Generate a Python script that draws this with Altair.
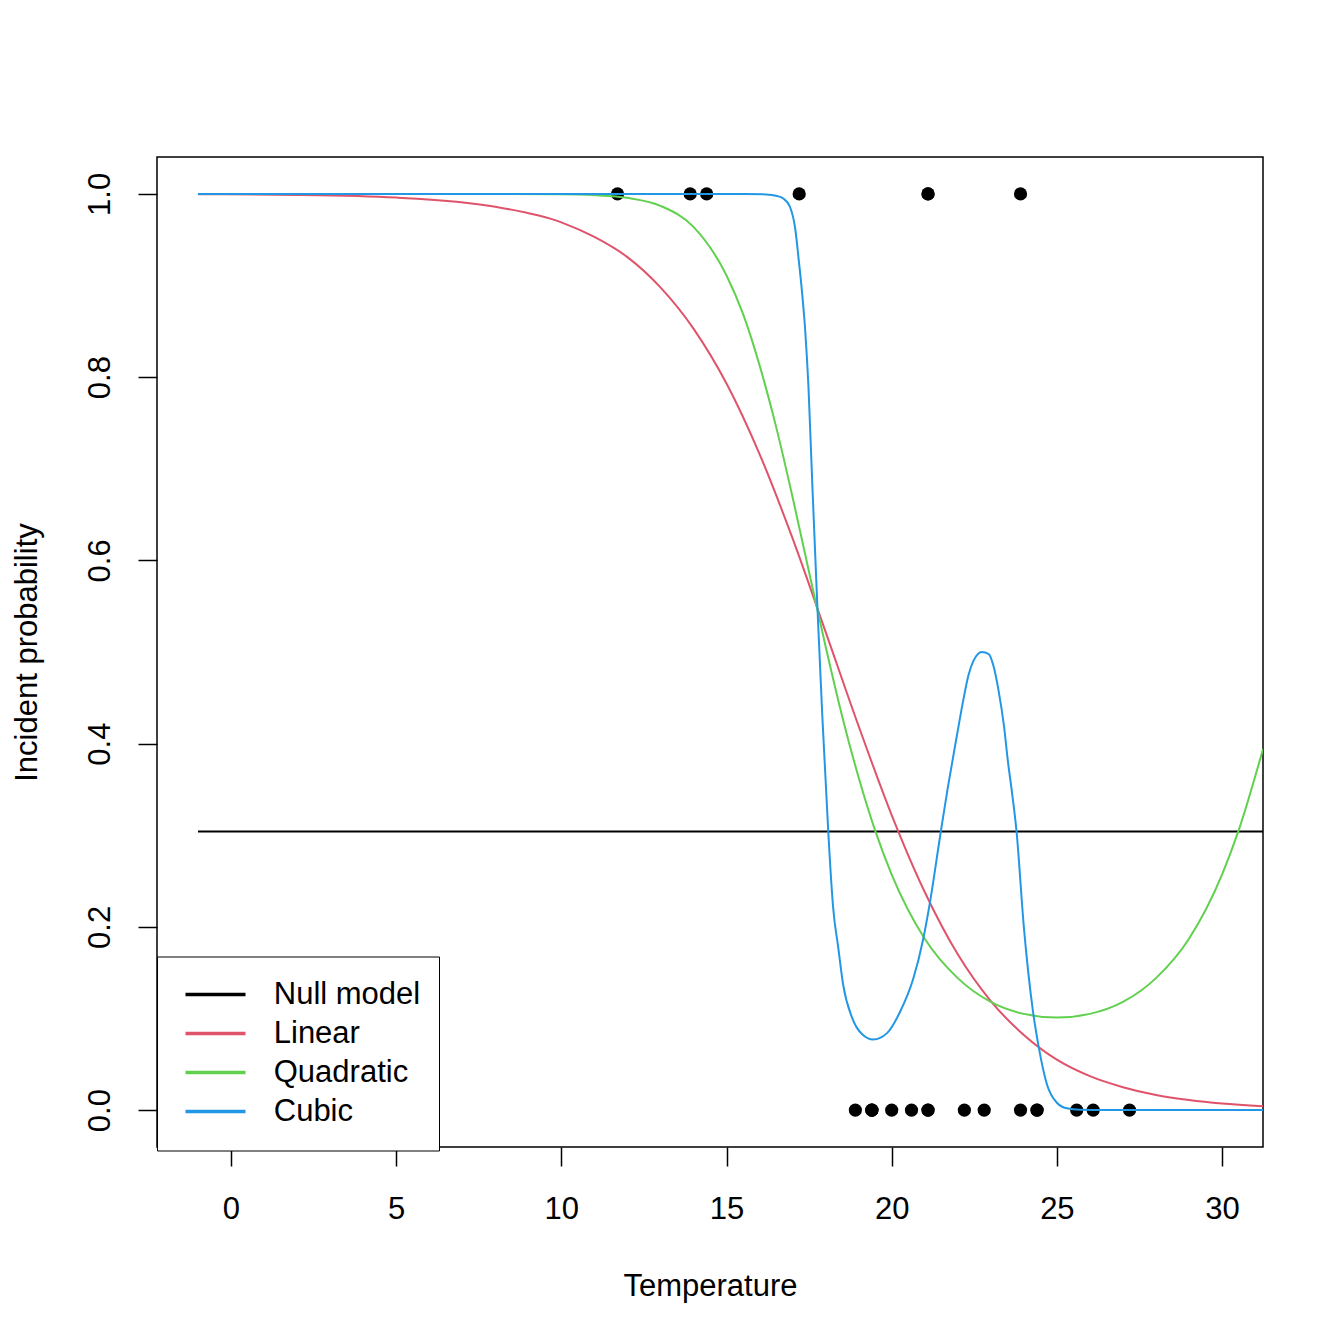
import altair as alt
import pandas as pd

# Observed flights (temperature in deg C, incident 1/0)
temp_incident = [11.7, 13.9, 14.4, 17.2, 21.1, 21.1, 23.9]
temp_no_incident = [18.9, 19.4, 19.4, 19.4, 20.0, 20.6, 21.1, 21.1, 22.2, 22.8,
                    23.9, 24.4, 24.4, 25.6, 26.1, 27.2]

# Fitted curves
null_x = [-1, 31.24]
null_y = [0.304, 0.304]

lin_x = [-1, 2, 5, 8, 10, 11, 12, 13, 14, 15, 16, 17, 18, 19, 20, 21, 22, 23,
         24, 25, 26, 27, 28, 29, 30, 31.24]
lin_y = [0.9997, 0.9989, 0.996, 0.986, 0.969, 0.953, 0.931, 0.898, 0.853, 0.793,
         0.716, 0.624, 0.522, 0.419, 0.322, 0.238, 0.170, 0.119, 0.082, 0.055,
         0.037, 0.025, 0.0165, 0.011, 0.0072, 0.0043]

quad_x = [-1, 5, 10, 11, 12, 13, 14, 15, 15.5, 16, 16.5, 17, 17.5, 18, 18.5, 19,
          19.5, 20, 21, 22, 23, 24, 25, 26, 27, 28, 29, 30, 30.5, 31.24]
quad_y = [1.0, 1.0, 0.9997, 0.9987, 0.9957, 0.987, 0.964, 0.911, 0.869, 0.813,
          0.746, 0.669, 0.587, 0.506, 0.430, 0.363, 0.305, 0.257, 0.187, 0.144,
          0.118, 0.105, 0.101, 0.105, 0.118, 0.144, 0.187, 0.257, 0.305, 0.394]

cub_x = [-1, 5, 10, 14, 15.5, 16.2, 16.5, 16.72, 16.92, 17.08, 17.18, 17.28,
         17.38, 17.48, 17.6, 17.75, 17.9, 18.0, 18.08, 18.23, 18.38, 18.53, 18.8,
         19.1, 19.44, 19.86, 20.25, 20.65, 20.95, 21.16, 21.47, 21.69, 21.97,
         22.17, 22.32, 22.47, 22.73, 22.93, 23.08, 23.23, 23.40, 23.52, 23.63,
         23.78, 24.0, 24.28, 24.45, 24.7, 25.0, 25.3, 25.7, 26.5, 31.24]
cub_y = [1.0, 1.0, 1.0, 1.0, 1.0, 0.9995, 0.998, 0.995, 0.986, 0.962, 0.93, 0.895,
         0.852, 0.79, 0.68, 0.55, 0.43, 0.36, 0.304, 0.22, 0.178, 0.137, 0.101,
         0.083, 0.077, 0.084, 0.107, 0.143, 0.186, 0.227, 0.30, 0.35, 0.408,
         0.448, 0.474, 0.490, 0.500, 0.498, 0.485, 0.459, 0.419, 0.38, 0.35,
         0.304, 0.2, 0.107, 0.069, 0.028, 0.008, 0.002, 0.0004, 0.0, 0.0]

models = ["Null model", "Linear", "Quadratic", "Cubic"]
colors = ["#000000", "#DF536B", "#61D04F", "#2297E6"]

rows = []
for name, xs, ys in [("Null model", null_x, null_y), ("Linear", lin_x, lin_y),
                     ("Quadratic", quad_x, quad_y), ("Cubic", cub_x, cub_y)]:
    for i, (a, b) in enumerate(zip(xs, ys)):
        rows.append({"x": a, "y": b, "model": name, "i": i})
curves = pd.DataFrame(rows)

pts = pd.DataFrame({
    "x": temp_incident + temp_no_incident,
    "y": [1] * len(temp_incident) + [0] * len(temp_no_incident),
})

FONT = "Liberation Sans"
FS = 31

xscale = alt.Scale(domain=[-2.24, 31.24], nice=False, zero=False)
yscale = alt.Scale(domain=[-0.0403, 1.0403], nice=False, zero=False)

xaxis = alt.Axis(values=[0, 5, 10, 15, 20, 25, 30], title="Temperature",
                 format="d", tickSize=19, tickWidth=1.5, tickColor="black",
                 labelFontSize=FS, labelFont=FONT, labelColor="black",
                 labelBaseline="alphabetic", labelPadding=52, labelFlush=False,
                 labelOverlap=False, domain=False, grid=False,
                 titleFontSize=FS, titleFont=FONT, titleFontWeight="normal",
                 titleColor="black", titleX=553, titleY=148,
                 titleAlign="center", titleBaseline="alphabetic")
yaxis = alt.Axis(values=[0, 0.2, 0.4, 0.6, 0.8, 1.0], title="Incident probability",
                 format=".1f", tickSize=19, tickWidth=1.5, tickColor="black",
                 labelFontSize=FS, labelFont=FONT, labelColor="black",
                 labelAngle=270, labelAlign="center", labelBaseline="alphabetic",
                 labelPadding=29, labelFlush=False, labelOverlap=False,
                 domain=False, grid=False,
                 titleFontSize=FS, titleFont=FONT, titleFontWeight="normal",
                 titleColor="black", titleAngle=270, titleX=-121, titleY=495,
                 titleAlign="center", titleBaseline="alphabetic")

points = alt.Chart(pts).mark_circle(size=175, color="black", opacity=1).encode(
    x=alt.X("x:Q", scale=xscale, axis=xaxis),
    y=alt.Y("y:Q", scale=yscale, axis=yaxis),
)

lines = alt.Chart(curves).mark_line(strokeWidth=2, interpolate="monotone", clip=True).encode(
    x=alt.X("x:Q", scale=xscale),
    y=alt.Y("y:Q", scale=yscale),
    order="i:Q",
    color=alt.Color("model:N",
                    scale=alt.Scale(domain=models, range=colors),
                    sort=models,
                    legend=alt.Legend(orient="none", legendX=0, legendY=799.5,
                                      title=None, symbolType="stroke",
                                      symbolSize=3600, symbolStrokeWidth=3.5,
                                      clipHeight=38.7, rowPadding=0,
                                      padding=18.75, symbolOffset=7.75,
                                      labelOffset=26.25, labelFontSize=FS,
                                      labelFont=FONT, labelColor="black",
                                      labelBaseline="middle", labelLimit=0,
                                      strokeColor="black", fillColor="white")),
)

chart = alt.layer(points, lines).properties(
    width=1106, height=990,
    autosize=alt.AutoSizeParams(type="none"),
    padding={"left": 149, "top": 149, "right": 73, "bottom": 189},
    background="white",
).configure_view(stroke="black", strokeWidth=1.5)

chart.save("out.html", embed_options={"renderer": "svg", "actions": False})
